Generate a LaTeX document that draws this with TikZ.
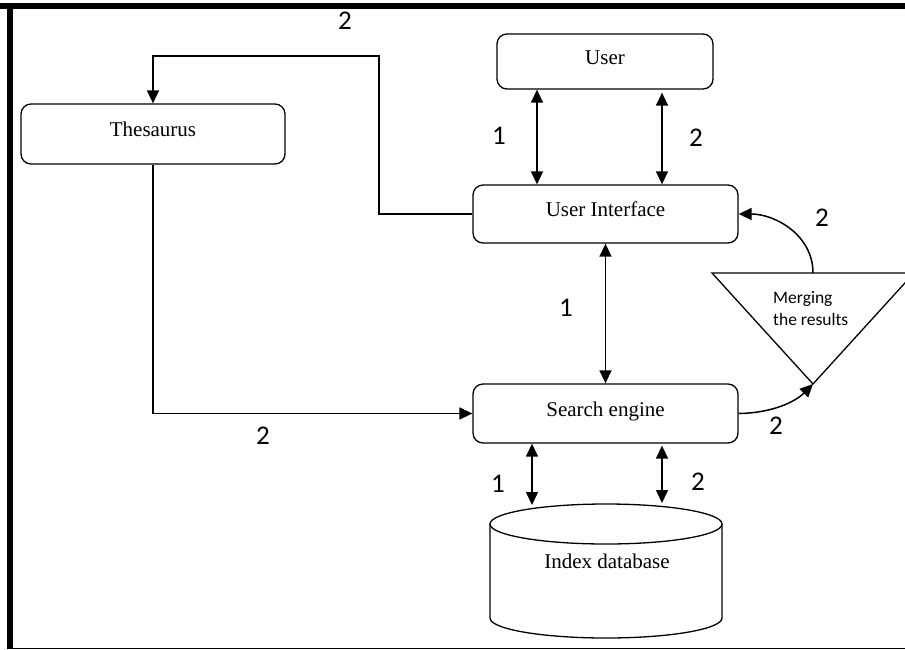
\documentclass[tikz,border=0pt]{standalone}
\usepackage{fontspec}
\setmainfont{Liberation Serif}
\newfontfamily\calib{Carlito}
\usetikzlibrary{arrows.meta}
\begin{document}
\begin{tikzpicture}[x=1pt,y=-1pt,
  box/.style={draw, line width=1.3pt, rounded corners=10pt, inner sep=0pt,
    font=\fontsize{21}{24}\selectfont, text height=14pt, text depth=9pt},
  conn/.style={line width=1.5pt},
  tip/.style={-{Triangle[length=13pt,width=12pt]}},
  both/.style={{Triangle[length=13pt,width=12pt]}-{Triangle[length=13pt,width=12pt]}},
  num/.style={font=\calib\fontsize{27}{30}\selectfont, inner sep=0pt},
  small/.style={font=\calib\fontsize{17.5}{21}\selectfont, inner sep=0pt, anchor=base west}]
\useasboundingbox (0,0) rectangle (905,649);

% frame
\fill (0,3) rectangle (905,9);
\fill (7,3) rectangle (13,648);
\draw[line width=1pt] (7,648) -- (905,648);

% boxes
\node[box, minimum width=216pt, minimum height=55pt] (user) at (605,61.5) {User};
\node[box, minimum width=264pt, minimum height=60pt] (th) at (153,134) {Thesaurus};
\node[box, minimum width=265pt, minimum height=58pt] (ui) at (605.5,214) {User Interface};
\node[box, minimum width=265pt, minimum height=59pt] (se) at (605.5,413.5) {Search engine};

% database cylinder
\draw[line width=1.3pt] (606,524) ellipse [x radius=116pt, y radius=20pt];
\draw[line width=1.3pt] (490,524) -- (490,618)
  arc[start angle=180, end angle=360, x radius=116pt, y radius=20pt] -- (722,524);
\node[font=\fontsize{21}{24}\selectfont, anchor=base, inner sep=0pt] (db) at (607,568) {Index database};
\coordinate (dbl) at (532,505);
\coordinate (dbr) at (662,503);

% merging triangle
\coordinate (mtop) at (813,273);
\coordinate (mtip) at (813,384);
\draw[line width=1.3pt] (712,273) -- (914,273) -- (mtip) -- cycle;
\node[small] (m1) at (773,303) {Merging};
\node[small] (m2) at (773,325) {the results};

% connectors
\draw[conn, tip] (ui.west) -| (379,56) -| (th.north);
\draw[conn, tip] (th.south) |- (se.west);
\draw[conn, both] ([xshift=-68pt]user.south) -- ([xshift=-68pt]user.south |- ui.north);
\draw[conn, both] ([xshift=57pt,yshift=-3pt]user.south) -- ([xshift=57pt]user.south |- ui.north);
\draw[conn, both] (ui.south) -- (se.north);
\draw[conn, both] ([xshift=-73.5pt]se.south) -- (dbl);
\draw[conn, both] ([xshift=56.5pt,yshift=-2pt]se.south) -- (dbr);
\draw[conn, tip] (mtop) .. controls (813,235) and (775,214) .. (ui.east);
\draw[conn, tip] (se.east) .. controls (772,413) and (795,402) .. (mtip);

% labels
\node[num] (n1) at (345,21) {2};
\node[num] (n2) at (499,136) {1};
\node[num] (n3) at (696,138) {2};
\node[num] (n4) at (822,218) {2};
\node[num] (n5) at (566,308) {1};
\node[num] (n6) at (263,436) {2};
\node[num] (n7) at (776,426) {2};
\node[num] (n8) at (498,484) {1};
\node[num] (n9) at (698,482) {2};
\end{tikzpicture}
\end{document}
